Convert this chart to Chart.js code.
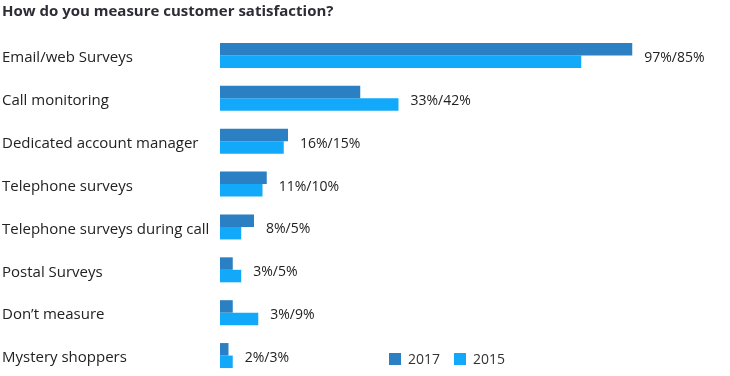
<!DOCTYPE html>
<html>
<head>
<meta charset="utf-8">
<script src="https://cdn.jsdelivr.net/npm/chart.js@4/dist/chart.umd.min.js"></script>
<style>
  html, body { margin: 0; padding: 0; overflow: hidden; background: #fff; }
  #wrap { position: relative; width: 730px; height: 386px; }
  #title { position: absolute; left: 2px; top: 0px; font: bold 15px "Open Sans", sans-serif; color: #2d2d35; line-height: 20px; white-space: nowrap; }
  #legend { position: absolute; left: 389px; top: 349px; font: 14px "Open Sans", sans-serif; color: #333; display: flex; align-items: center; }
  #legend .item { display: flex; align-items: center; margin-right: 14px; }
  #legend .sw { width: 12px; height: 12px; margin-right: 7px; }
</style>
</head>
<body>
<div id="wrap">
  <canvas id="c" width="730" height="386"></canvas>
  <div id="title">How do you measure customer satisfaction?</div>
  <div id="legend"></div>
</div>
<script>
const categories = ["Email/web Surveys", "Call monitoring", "Dedicated account manager", "Telephone surveys", "Telephone surveys during call", "Postal Surveys", "Don\u2019t measure", "Mystery shoppers"];
const values2017 = [97, 33, 16, 11, 8, 3, 3, 2];
const values2015 = [85, 42, 15, 10, 5, 5, 9, 3];
const seriesNames = ["2017", "2015"];
const seriesColors = ["#2a80c3", "#13a9fb"];

const valueLabels = {
  id: 'valueLabels',
  afterDatasetsDraw(chart) {
    const ctx = chart.ctx;
    const xs = chart.scales.x, ys = chart.scales.y;
    ctx.save();
    ctx.font = '14px "Open Sans", sans-serif';
    ctx.fillStyle = '#222';
    ctx.textBaseline = 'middle';
    ctx.textAlign = 'left';
    categories.forEach((cat, i) => {
      const a = values2017[i], b = values2015[i];
      const x = xs.getPixelForValue(Math.max(a, b)) + 12;
      const y = ys.getPixelForValue(i) + 2.5;
      ctx.fillText(a + '%/' + b + '%', x, y);
    });
    ctx.restore();
  }
};

const chart = new Chart(document.getElementById('c'), {
  type: 'bar',
  data: {
    labels: categories,
    datasets: [
      { label: seriesNames[0], data: values2017, backgroundColor: seriesColors[0] },
      { label: seriesNames[1], data: values2015, backgroundColor: seriesColors[1] }
    ]
  },
  options: {
    indexAxis: 'y',
    responsive: false,
    animation: false,
    devicePixelRatio: 1,
    layout: { padding: { left: 2, right: 85, top: 34, bottom: 0 } },
    datasets: { bar: { barPercentage: 1, categoryPercentage: 0.583, borderWidth: 0 } },
    plugins: { legend: { display: false }, tooltip: { enabled: false }, title: { display: false } },
    scales: {
      x: { display: false, min: 0, max: 100 },
      y: {
        grid: { display: false, drawTicks: false },
        border: { display: false },
        ticks: { crossAlign: 'far', padding: 0, labelOffset: 2.5, color: '#222', font: { family: '"Open Sans", sans-serif', size: 15 } },
        afterFit(scale) { scale.width = 218; }
      }
    }
  },
  plugins: [valueLabels]
});

const leg = document.getElementById('legend');
seriesNames.forEach((n, i) => {
  const it = document.createElement('div');
  it.className = 'item';
  const sw = document.createElement('div');
  sw.className = 'sw';
  sw.style.background = seriesColors[i];
  const t = document.createElement('span');
  t.textContent = n;
  it.appendChild(sw); it.appendChild(t);
  leg.appendChild(it);
});
</script>
</body>
</html>
